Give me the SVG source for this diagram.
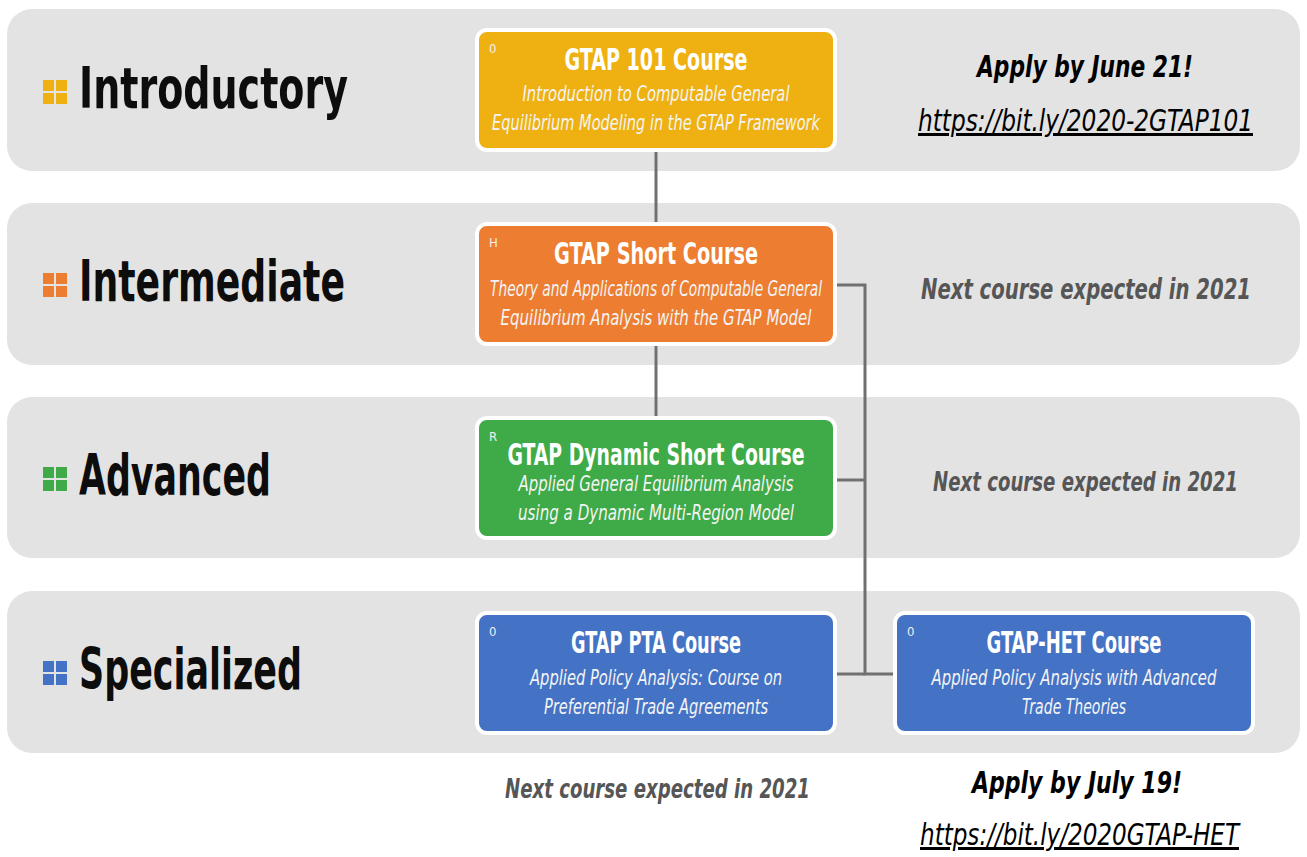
<svg xmlns="http://www.w3.org/2000/svg" width="1307" height="857" viewBox="0 0 1307 857">
<style>
  text { font-family: "Liberation Sans Narrow", "DejaVu Sans Condensed", "Liberation Sans", sans-serif; }
  .band { fill: #e3e3e3; }
  .box { stroke: #ffffff; stroke-width: 4; }
  .lvl { font-size: 57px; font-weight: bold; fill: #0d0d0d; }
  .ttl { font-size: 30px; font-weight: bold; fill: #ffffff; text-anchor: middle; }
  .sub { font-size: 22px; font-style: italic; fill: #f4f4f4; text-anchor: middle; }
  .tag { font-size: 13px; fill: #f0f0f0; }
  .next { font-weight: bold; font-style: italic; fill: #565656; }
  .apply { font-size: 30px; font-weight: bold; font-style: italic; fill: #000000; }
  .link { font-size: 30px; font-style: italic; fill: #000000; text-decoration: underline; }
  .conn { stroke: #707070; stroke-width: 3; fill: none; }
</style>

<g id="bands">
  <rect class="band" x="7" y="9" width="1293" height="162" rx="25"/>
  <rect class="band" x="7" y="203" width="1293" height="162" rx="25"/>
  <rect class="band" x="7" y="397" width="1293" height="161" rx="25"/>
  <rect class="band" x="7" y="591" width="1293" height="162" rx="25"/>
</g>

<g id="level-introductory">
  <g fill="#eeb111">
    <rect x="43" y="80" width="11" height="11"/><rect x="56" y="80" width="11" height="11"/>
    <rect x="43" y="93" width="11" height="11"/><rect x="56" y="93" width="11" height="11"/>
  </g>
  <text class="lvl" x="79" y="108" textLength="269" lengthAdjust="spacingAndGlyphs">Introductory</text>
</g>
<g id="level-intermediate">
  <g fill="#ed7d31">
    <rect x="43" y="273" width="11" height="11"/><rect x="56" y="273" width="11" height="11"/>
    <rect x="43" y="286" width="11" height="11"/><rect x="56" y="286" width="11" height="11"/>
  </g>
  <text class="lvl" x="79" y="301" textLength="266" lengthAdjust="spacingAndGlyphs">Intermediate</text>
</g>
<g id="level-advanced">
  <g fill="#3fab48">
    <rect x="43" y="467" width="11" height="11"/><rect x="56" y="467" width="11" height="11"/>
    <rect x="43" y="480" width="11" height="11"/><rect x="56" y="480" width="11" height="11"/>
  </g>
  <text class="lvl" x="79" y="495" textLength="192" lengthAdjust="spacingAndGlyphs">Advanced</text>
</g>
<g id="level-specialized">
  <g fill="#4472c4">
    <rect x="43" y="661" width="11" height="11"/><rect x="56" y="661" width="11" height="11"/>
    <rect x="43" y="674" width="11" height="11"/><rect x="56" y="674" width="11" height="11"/>
  </g>
  <text class="lvl" x="79" y="689" textLength="223" lengthAdjust="spacingAndGlyphs">Specialized</text>
</g>

<g id="connectors">
  <line class="conn" x1="656" y1="151" x2="656" y2="224"/>
  <line class="conn" x1="656" y1="345" x2="656" y2="418"/>
  <polyline class="conn" points="836,285 865,285 865,674 894,674"/>
  <line class="conn" x1="836" y1="480" x2="865" y2="480"/>
  <line class="conn" x1="836" y1="674" x2="865" y2="674"/>
</g>

<g id="node-gtap101">
  <rect class="box" x="477" y="30" width="358" height="120" rx="10" fill="#eeb111"/>
  <text class="tag" x="489" y="53">0</text>
  <text class="ttl" x="656" y="70" textLength="183" lengthAdjust="spacingAndGlyphs">GTAP 101 Course</text>
  <text class="sub" x="656" y="101" textLength="267" lengthAdjust="spacingAndGlyphs">Introduction to Computable General</text>
  <text class="sub" x="656" y="130" textLength="328" lengthAdjust="spacingAndGlyphs">Equilibrium Modeling in the GTAP Framework</text>
</g>

<g id="node-short">
  <rect class="box" x="477" y="224" width="358" height="120" rx="10" fill="#ed7d31"/>
  <text class="tag" x="489" y="247">H</text>
  <text class="ttl" x="656" y="264" textLength="204" lengthAdjust="spacingAndGlyphs">GTAP Short Course</text>
  <text class="sub" x="656" y="296" textLength="332" lengthAdjust="spacingAndGlyphs">Theory and Applications of Computable General</text>
  <text class="sub" x="656" y="325" textLength="311" lengthAdjust="spacingAndGlyphs">Equilibrium Analysis with the GTAP Model</text>
</g>

<g id="node-dynamic">
  <rect class="box" x="477" y="418" width="358" height="120" rx="10" fill="#3fab48"/>
  <text class="tag" x="489" y="441">R</text>
  <text class="ttl" x="656" y="465" textLength="297" lengthAdjust="spacingAndGlyphs">GTAP Dynamic Short Course</text>
  <text class="sub" x="656" y="491" textLength="275" lengthAdjust="spacingAndGlyphs">Applied General Equilibrium Analysis</text>
  <text class="sub" x="656" y="520" textLength="276" lengthAdjust="spacingAndGlyphs">using a Dynamic Multi-Region Model</text>
</g>

<g id="node-pta">
  <rect class="box" x="477" y="613" width="358" height="120" rx="10" fill="#4472c4"/>
  <text class="tag" x="489" y="636">0</text>
  <text class="ttl" x="656" y="653" textLength="170" lengthAdjust="spacingAndGlyphs">GTAP PTA Course</text>
  <text class="sub" x="656" y="685" textLength="252" lengthAdjust="spacingAndGlyphs">Applied Policy Analysis: Course on</text>
  <text class="sub" x="656" y="714" textLength="224" lengthAdjust="spacingAndGlyphs">Preferential Trade Agreements</text>
</g>

<g id="node-het">
  <rect class="box" x="895" y="613" width="358" height="120" rx="10" fill="#4472c4"/>
  <text class="tag" x="907" y="636">0</text>
  <text class="ttl" x="1074" y="653" textLength="175" lengthAdjust="spacingAndGlyphs">GTAP-HET Course</text>
  <text class="sub" x="1074" y="685" font-size="20" textLength="285" lengthAdjust="spacingAndGlyphs">Applied Policy Analysis with Advanced</text>
  <text class="sub" x="1074" y="714" textLength="104" lengthAdjust="spacingAndGlyphs">Trade Theories</text>
</g>

<g id="notes">
  <text class="apply" x="977" y="77" textLength="216" lengthAdjust="spacingAndGlyphs">Apply by June 21!</text>
  <text class="link" x="918" y="131" textLength="335" lengthAdjust="spacingAndGlyphs">https://bit.ly/2020-2GTAP101</text>
  <text class="next" x="1251" y="299" font-size="29" text-anchor="end" textLength="330" lengthAdjust="spacingAndGlyphs">Next course expected in 2021</text>
  <text class="next" x="1238" y="491" font-size="27" text-anchor="end" textLength="305" lengthAdjust="spacingAndGlyphs">Next course expected in 2021</text>
  <text class="next" x="505" y="798" font-size="27" textLength="305" lengthAdjust="spacingAndGlyphs">Next course expected in 2021</text>
  <text class="apply" x="972" y="793" textLength="210" lengthAdjust="spacingAndGlyphs">Apply by July 19!</text>
  <text class="link" x="920" y="845" textLength="319" lengthAdjust="spacingAndGlyphs">https://bit.ly/2020GTAP-HET</text>
</g>
</svg>
